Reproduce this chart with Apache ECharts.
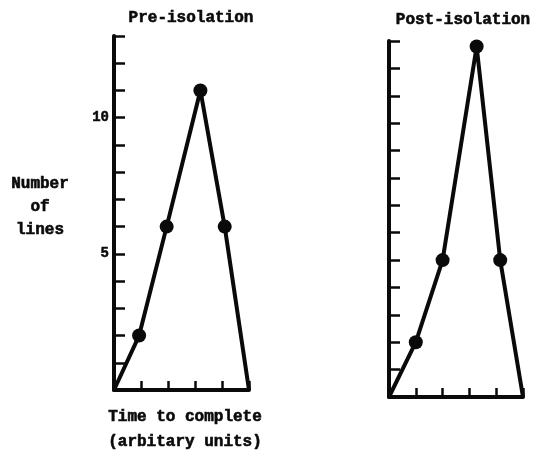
<!DOCTYPE html>
<html>
<head>
<meta charset="utf-8">
<script src="https://cdn.jsdelivr.net/npm/echarts@6/dist/echarts.min.js"></script>
<style>
  html, body { margin: 0; padding: 0; background: #fff; }
  #chart { width: 535px; height: 452px; }
</style>
</head>
<body>
<div id="chart"></div>
<script>
// Time-to-complete positions (arbitrary units) and number of lines, per phase
const preTime  = [0, 0.93, 1.95, 3.2, 4.1, 5];
const preLines = [0, 2, 6, 11, 6, 0];
const postTime  = [0, 1, 2, 3.27, 4.15, 5];
const postLines = [0, 2, 5, 12.8, 5, 0];
const yLabelTicks = [5, 10];
const panelTitles = ['Pre-isolation', 'Post-isolation'];

const FONT = '"Liberation Mono", "DejaVu Sans Mono", monospace';
const INK = '#0a0a0a';

function pairs(xs, ys) {
  return xs.map((x, i) => ({
    value: [x, ys[i]],
    symbol: (i === 0 || i === xs.length - 1) ? 'none' : 'circle'
  }));
}

function xAxisFor(gridIndex) {
  return {
    type: 'value', gridIndex, min: 0, max: 5, interval: 1,
    axisLine: { show: true, onZero: false, lineStyle: { color: INK, width: 4 } },
    axisTick: {
      show: true, inside: true, length: 9,
      interval: (i, v) => Number(v) > 0 && Number(v) < 5,
      lineStyle: { color: INK, width: 2.5 }
    },
    axisLabel: { show: false },
    splitLine: { show: false }
  };
}

function yAxisFor(gridIndex, labelled) {
  return {
    type: 'value', gridIndex, min: 0, max: 13, interval: 1,
    axisLine: { show: true, onZero: false, lineStyle: { color: INK, width: 4 } },
    axisTick: { show: true, inside: true, length: 11, lineStyle: { color: INK, width: 2.5 } },
    axisLabel: {
      show: labelled, margin: 5, color: INK,
      fontFamily: FONT, fontWeight: 'bold', fontSize: 14,
      textBorderColor: INK, textBorderWidth: 0.5,
      formatter: v => yLabelTicks.includes(v) ? String(v) : ''
    },
    splitLine: { show: false }
  };
}

function lineSeries(idx, xs, ys) {
  return {
    type: 'line', xAxisIndex: idx, yAxisIndex: idx,
    data: pairs(xs, ys),
    symbolSize: 14,
    lineStyle: { color: INK, width: 4 },
    itemStyle: { color: INK },
    animation: false,
    z: 3
  };
}

function label(text, x, y) {
  return {
    type: 'text', x, y,
    style: {
      text, x: 0, y: 0, fill: INK,
      stroke: INK, lineWidth: 0.6,
      font: 'bold 16px ' + FONT,
      textAlign: 'center', textVerticalAlign: 'middle'
    }
  };
}

const chart = echarts.init(document.getElementById('chart'), null, { renderer: 'canvas' });
chart.setOption({
  backgroundColor: '#ffffff',
  animation: false,
  grid: [
    { left: 114, top: 36, width: 135, height: 354 },
    { left: 389, top: 41, width: 134, height: 356 }
  ],
  xAxis: [xAxisFor(0), xAxisFor(1)],
  yAxis: [yAxisFor(0, true), yAxisFor(1, false)],
  series: [
    lineSeries(0, preTime, preLines),
    lineSeries(1, postTime, postLines)
  ],
  graphic: [
    label(panelTitles[0], 191, 18),
    label(panelTitles[1], 463, 20),
    label('Number', 40, 184),
    label('of', 40, 207),
    label('lines', 40, 230),
    label('Time to complete', 185, 417),
    label('(arbitary units)', 185, 442)
  ]
});
</script>
</body>
</html>
